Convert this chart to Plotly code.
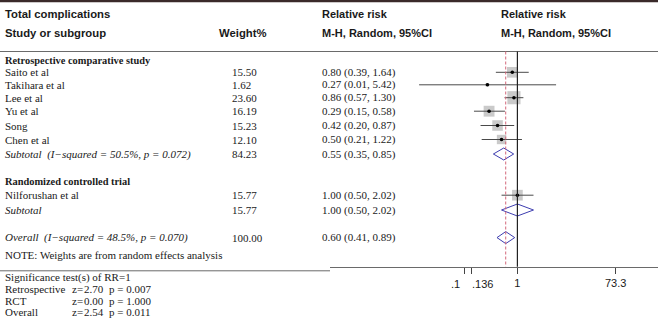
import math
import plotly.graph_objects as go

# ---------------- data ----------------
studies = ["Saito et al", "Takihara et al", "Lee et al", "Yu et al", "Song", "Chen et al", "Nilforushan et al"]
weights = [15.50, 1.62, 23.60, 16.19, 15.23, 12.10, 15.77]
rr = [0.80, 0.27, 0.86, 0.29, 0.42, 0.50, 1.00]
rr_lo = [0.39, 0.01, 0.57, 0.15, 0.20, 0.21, 0.50]
rr_hi = [1.64, 5.42, 1.30, 0.58, 0.87, 1.22, 2.02]
study_rows = [72.3, 84.8, 97.7, 111.2, 125.5, 139.5, 195.2]

pooled_labels = ["Subtotal  (I\u2212squared = 50.5%, p = 0.072)", "Subtotal", "Overall  (I\u2212squared = 48.5%, p = 0.070)"]
pooled_weights = [84.23, 15.77, 100.00]
pooled_rr = [0.55, 1.00, 0.60]
pooled_lo = [0.35, 0.50, 0.41]
pooled_hi = [0.85, 2.02, 0.89]
pooled_rows = [154.0, 210.0, 237.6]

group_labels = ["Retrospective comparative study", "Randomized controlled trial"]
group_rows = [60.5, 181.0]

tick_vals = [0.1, 0.136, 1, 73.3]
tick_text = [".1", ".136", "1", "73.3"]
axis_min = 1 / 73.3   # Stata plot range lower bound (CI clipped here)

sig_labels = ["Retrospective", "RCT", "Overall"]
sig_z = ["2.70", "0.00", "2.54"]
sig_p = ["p = 0.007", "p = 1.000", "p = 0.011"]
sig_rows = [289.3, 301.0, 312.3]

# ---------------- layout constants ----------------
W, H = 658, 322
px_one = 517.4
px_dec = 52.7
forest_left = 330
x2_range = [(forest_left - px_one) / px_dec, (W - px_one) / px_dec]
axis_y = 266.7
header_line_y = 51.5
tick_label_y = 283.5

SERIF = "Liberation Serif, Times New Roman, serif"
SANS = "Liberation Sans, Arial, sans-serif"
TXT = "#1a1a1a"

fig = go.Figure()

def fmt_ci(e, l, h):
    return f"{e:.2f} ({l:.2f}, {h:.2f})"

anns = []
def txt(x, y, s, font=SERIF, size=11, bold=False, italic=False, anchor="left"):
    if bold:
        s = f"<b>{s}</b>"
    if italic:
        s = f"<i>{s}</i>"
    anns.append(dict(x=x, y=y, xref="x", yref="y", text=s.replace("  ", "\u00a0\u00a0"),
                     showarrow=False, xanchor=anchor, yanchor="middle",
                     font=dict(family=font, size=size, color=TXT)))

# headers
txt(3, 14, "Total complications", font=SANS, size=11.3, bold=True)
txt(3, 33, "Study or subgroup", font=SANS, size=11.3, bold=True)
txt(217, 33, "Weight%", font=SANS, size=11.3, bold=True)
txt(320, 14, "Relative risk", font=SANS, bold=True)
txt(320, 33, "M-H, Random, 95%CI", font=SANS, bold=True)
txt(499, 14, "Relative risk", font=SANS, bold=True)
txt(499, 33, "M-H, Random, 95%CI", font=SANS, bold=True)

for g, y in zip(group_labels, group_rows):
    txt(3, y, g, size=10.4, bold=True)

for s, w, e, l, h, y in zip(studies, weights, rr, rr_lo, rr_hi, study_rows):
    txt(3, y, s)
    txt(230, y, f"{w:.2f}")
    txt(320, y, fmt_ci(e, l, h))

for s, w, e, l, h, y in zip(pooled_labels, pooled_weights, pooled_rr, pooled_lo, pooled_hi, pooled_rows):
    txt(3, y, s, italic=True)
    txt(230, y, f"{w:.2f}")
    txt(320, y, fmt_ci(e, l, h))

txt(3, 255, "NOTE: Weights are from random effects analysis")
txt(3, 277.5, "Significance test(s) of RR=1")
for lab, z, p, y in zip(sig_labels, sig_z, sig_p, sig_rows):
    txt(3, y, lab)
    txt(70, y, "z=")
    txt(82, y, z)
    txt(107, y, p)

# the two close tick labels are pushed apart (as in the original Stata output),
# anchored to the log axis at their tick values
anns.append(dict(x=math.log10(tick_vals[0]), y=tick_label_y, xref="x2", yref="y2", text=tick_text[0],
                 showarrow=False, xanchor="right", yanchor="middle", xshift=-3,
                 font=dict(family=SANS, size=11, color=TXT)))
anns.append(dict(x=math.log10(tick_vals[1]), y=tick_label_y, xref="x2", yref="y2", text=tick_text[1],
                 showarrow=False, xanchor="left", yanchor="middle", xshift=-2,
                 font=dict(family=SANS, size=11, color=TXT)))

# ---------------- forest marks ----------------
sq_size = [2.7 * math.sqrt(w) for w in weights]
fig.add_trace(go.Scatter(x=rr, y=study_rows, xaxis="x2", yaxis="y2", mode="markers",
                         marker=dict(symbol="square", size=sq_size, color="#b4b4b4", line=dict(width=0)),
                         hoverinfo="skip", showlegend=False))
for e, l, h, y in zip(rr, rr_lo, rr_hi, study_rows):
    fig.add_trace(go.Scatter(x=[max(l, axis_min), h], y=[y, y], xaxis="x2", yaxis="y2", mode="lines",
                             line=dict(color="#4a4a4a", width=1), hoverinfo="skip", showlegend=False))
fig.add_trace(go.Scatter(x=rr, y=study_rows, xaxis="x2", yaxis="y2", mode="markers",
                         marker=dict(symbol="circle", size=3.6, color="#000"),
                         hoverinfo="skip", showlegend=False))
for e, l, h, y in zip(pooled_rr, pooled_lo, pooled_hi, pooled_rows):
    fig.add_trace(go.Scatter(x=[l, e, h, e, l], y=[y, y - 6, y, y + 6, y], xaxis="x2", yaxis="y2",
                             mode="lines", line=dict(color="#3d3db0", width=1),
                             hoverinfo="skip", showlegend=False))

shapes = [
    dict(type="line", xref="x", yref="y", x0=0, x1=W, y0=1, y1=1, line=dict(color="#3a2a2a", width=2.5)),
    dict(type="line", xref="x", yref="y", x0=0, x1=W, y0=header_line_y, y1=header_line_y,
         line=dict(color="#6a6a6a", width=1)),
    dict(type="line", xref="x", yref="y", x0=0, x1=forest_left, y0=270.8, y1=270.8,
         line=dict(color="#6a6a6a", width=1)),
    dict(type="line", xref="x2", yref="y2", x0=1, x1=1, y0=header_line_y, y1=axis_y,
         line=dict(color="#222", width=1.2)),
    dict(type="line", xref="x2", yref="y2", x0=pooled_rr[2], x1=pooled_rr[2], y0=header_line_y, y1=axis_y,
         line=dict(color="#d4687a", width=1, dash="3px,2px")),
]

tick_labels_drawn = ["", "", tick_text[2], tick_text[3]]

fig.update_layout(
    width=W, height=H, margin=dict(l=0, r=0, t=0, b=0, autoexpand=False),
    paper_bgcolor="white", plot_bgcolor="rgba(0,0,0,0)",
    showlegend=False,
    xaxis=dict(range=[0, W], domain=[0, 1], showgrid=False, zeroline=False, showticklabels=False,
               showline=False, ticks=""),
    yaxis=dict(range=[H, 0], domain=[0, 1], showgrid=False, zeroline=False, showticklabels=False,
               showline=False, ticks=""),
    xaxis2=dict(type="log", range=x2_range, domain=[forest_left / W, 1], anchor="free",
                position=1 - axis_y / H, showgrid=False, zeroline=False,
                showline=True, linecolor="#6a6a6a", linewidth=1,
                ticks="outside", ticklen=6, tickcolor="#444", tickwidth=1,
                tickvals=tick_vals, ticktext=tick_labels_drawn, tickangle=0, automargin=False,
                tickfont=dict(family=SANS, size=11, color=TXT)),
    yaxis2=dict(range=[H, 0], domain=[0, 1], anchor="x2", showgrid=False, zeroline=False,
                showticklabels=False, showline=False, ticks=""),
    annotations=anns,
    shapes=shapes,
)

fig.write_html("out.html", config={"displayModeBar": False, "staticPlot": True},
               post_script="document.body.style.margin='0';document.body.style.overflow='hidden';")
